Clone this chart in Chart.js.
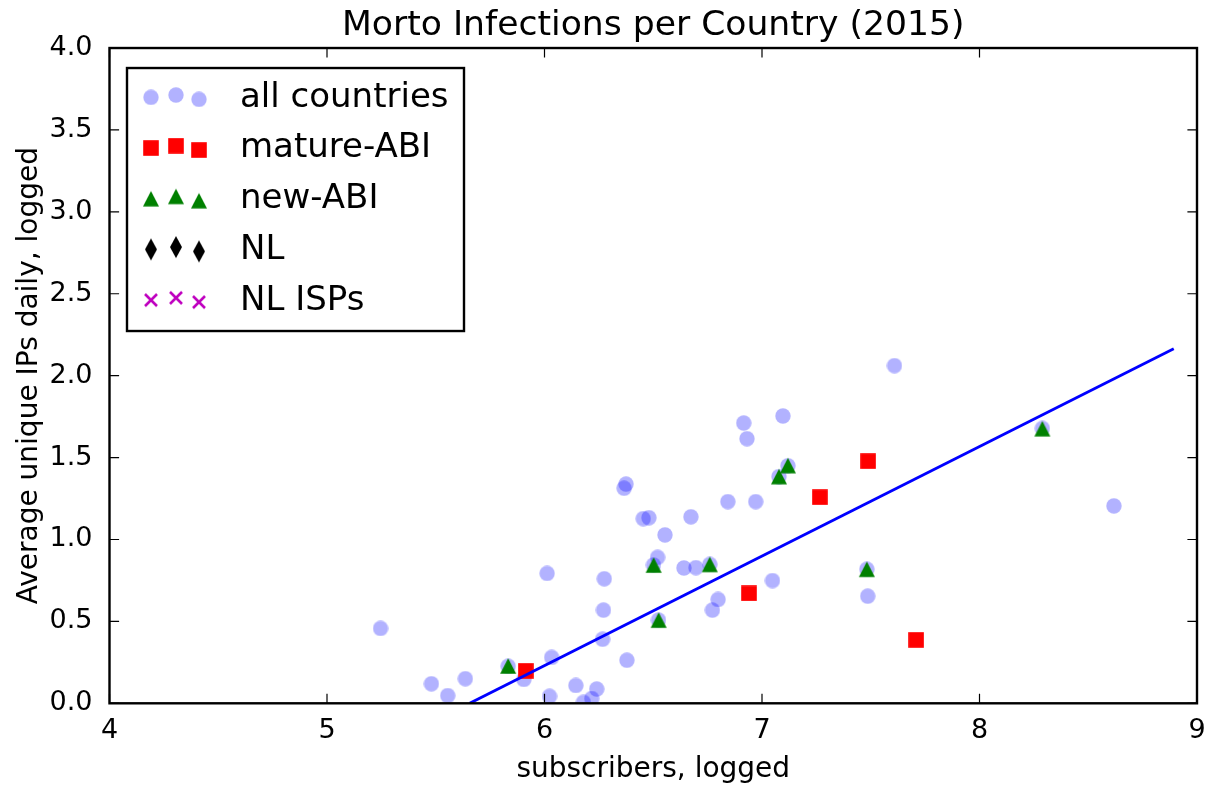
<!DOCTYPE html>
<html>
<head>
<meta charset="utf-8">
<script src="https://cdn.jsdelivr.net/npm/chart.js@4.4.1/dist/chart.umd.min.js"></script>
<style>
  html, body { margin: 0; padding: 0; background: #fff; }
  canvas { display: block; }
</style>
</head>
<body>
<canvas id="mortoGrafico" width="1215" height="789"></canvas>
<script>
// all countries (subscribers logged, IPs logged)
const todosX = [5.246, 5.480, 5.555, 5.636, 5.833, 5.905, 6.012, 6.023, 6.033, 6.144, 6.179,
  6.217, 6.240, 6.267, 6.271, 6.275, 6.379, 6.366, 6.375, 6.454, 6.480, 6.554, 6.520, 6.501,
  6.641, 6.696, 6.760, 6.673, 6.798, 6.772, 6.524, 6.843, 6.971, 6.916, 6.931, 7.096, 7.078,
  7.119, 7.048, 7.609, 7.482, 7.486, 8.289, 8.618];
const todosY = [0.457, 0.119, 0.047, 0.150, 0.226, 0.146, 0.793, 0.043, 0.280, 0.109, 0.006,
  0.029, 0.087, 0.391, 0.569, 0.760, 0.263, 1.313, 1.338, 1.127, 1.133, 1.028, 0.891, 0.844,
  0.826, 0.828, 0.848, 1.138, 0.634, 0.569, 0.508, 1.231, 1.231, 1.711, 1.615, 1.754, 1.384,
  1.450, 0.749, 2.061, 0.818, 0.654, 1.678, 1.205];

const matureX = [5.914, 6.940, 7.266, 7.488, 7.709];
const matureY = [0.198, 0.671, 1.258, 1.478, 0.387];

const novoX = [5.833, 6.502, 6.525, 6.760, 7.078, 7.119, 7.482, 8.289];
const novoY = [0.228, 0.844, 0.508, 0.848, 1.384, 1.451, 0.818, 1.676];

const nlX = [];
const nlY = [];
const ispX = [];
const ispY = [];

// regression line end points
const retaX = [5.656, 8.893];
const retaY = [0.0, 2.165];

const xTicks = [4, 5, 6, 7, 8, 9];
const yTicks = [0.0, 0.5, 1.0, 1.5, 2.0, 2.5, 3.0, 3.5, 4.0];

const FONTE = "'DejaVu Sans', sans-serif";

function pares(xs, ys) {
    return xs.map((x, i) => ({ x: x, y: ys[i] }));
}

function marcador(w, h, desenha) {
    const c = document.createElement("canvas");
    c.width = w;
    c.height = h;
    desenha(c.getContext("2d"), w, h);
    return c;
}

const bolinha = marcador(16, 16, (g) => {
    g.fillStyle = "rgba(0,0,255,0.3)";
    g.beginPath();
    g.arc(8, 8, 7.7, 0, 2 * Math.PI);
    g.fill();
});
const quadrado = marcador(16, 16, (g) => {
    g.fillStyle = "#ff0000";
    g.fillRect(0.2, 0.2, 15.6, 15.6);
});
const triangulo = marcador(18, 18, (g) => {
    g.fillStyle = "#008000";
    g.beginPath();
    g.moveTo(9, 1.2);
    g.lineTo(17, 16.8);
    g.lineTo(1, 16.8);
    g.closePath();
    g.fill();
});
const losango = marcador(14, 24, (g) => {
    g.fillStyle = "#000000";
    g.beginPath();
    g.moveTo(7, 1);
    g.lineTo(13, 12);
    g.lineTo(7, 23);
    g.lineTo(1, 12);
    g.closePath();
    g.fill();
});
const xis = marcador(16, 16, (g) => {
    g.strokeStyle = "#bf00bf";
    g.lineWidth = 2.6;
    g.beginPath();
    g.moveTo(2, 2); g.lineTo(14, 14);
    g.moveTo(14, 2); g.lineTo(2, 14);
    g.stroke();
});

const legendaItens = [
    { texto: "all countries", img: bolinha },
    { texto: "mature-ABI", img: quadrado },
    { texto: "new-ABI", img: triangulo },
    { texto: "NL", img: losango },
    { texto: "NL ISPs", img: xis }
];

// frame with inward ticks on all four sides
const moldura = {
    id: "moldura",
    afterDatasetsDraw(chart) {
        const ctx = chart.ctx;
        const a = chart.chartArea;
        const sx = chart.scales.x, sy = chart.scales.y;
        const tam = 9.6;
        ctx.save();
        ctx.strokeStyle = "#000";
        ctx.lineWidth = 1.2;
        ctx.beginPath();
        xTicks.forEach((v) => {
            const px = sx.getPixelForValue(v);
            ctx.moveTo(px, a.bottom); ctx.lineTo(px, a.bottom - tam);
            ctx.moveTo(px, a.top); ctx.lineTo(px, a.top + tam);
        });
        yTicks.forEach((v) => {
            const py = sy.getPixelForValue(v);
            ctx.moveTo(a.left, py); ctx.lineTo(a.left + tam, py);
            ctx.moveTo(a.right, py); ctx.lineTo(a.right - tam, py);
        });
        ctx.stroke();
        ctx.lineWidth = 2.4;
        ctx.strokeRect(a.left, a.top, a.right - a.left, a.bottom - a.top);
        ctx.restore();
    }
};

const legenda = {
    id: "legendaMpl",
    afterDraw(chart) {
        const ctx = chart.ctx;
        const a = chart.chartArea;
        const bx = a.left + 17.5, by = a.top + 20, bw = 337, bh = 263;
        const offY = [0.3, -2, 2.3];
        const offX = [24, 49, 72];
        ctx.save();
        ctx.fillStyle = "#fff";
        ctx.fillRect(bx, by, bw, bh);
        ctx.strokeStyle = "#000";
        ctx.lineWidth = 2.4;
        ctx.strokeRect(bx, by, bw, bh);
        ctx.font = "34px " + FONTE;
        ctx.textBaseline = "alphabetic";
        ctx.fillStyle = "#000";
        legendaItens.forEach((item, i) => {
            const cy = by + 29 + i * 50.7;
            offX.forEach((ox, k) => {
                const img = item.img;
                ctx.drawImage(img, bx + ox - img.width / 2, cy + offY[k] - img.height / 2);
            });
            ctx.fillText(item.texto, bx + 113, cy + 9.7);
        });
        ctx.restore();
    }
};

new Chart(document.getElementById("mortoGrafico"), {
    type: "scatter",
    data: {
        datasets: [
            {
                type: "line",
                label: "fit",
                data: pares(retaX, retaY),
                borderColor: "#0000ff",
                borderWidth: 2.8,
                pointRadius: 0,
                fill: false
            },
            { label: "new-ABI", data: pares(novoX, novoY), pointStyle: triangulo },
            { label: "mature-ABI", data: pares(matureX, matureY), pointStyle: quadrado },
            { label: "NL ISPs", data: pares(ispX, ispY), pointStyle: xis },
            { label: "NL", data: pares(nlX, nlY), pointStyle: losango },
            { label: "all countries", data: pares(todosX, todosY), pointStyle: bolinha }
        ]
    },
    options: {
        responsive: false,
        animation: false,
        layout: { padding: { left: 0, right: 18, top: 0, bottom: 0 } },
        scales: {
            x: {
                type: "linear",
                min: 4,
                max: 9,
                afterFit(s) { s.height = 85.7; },
                afterBuildTicks(s) { s.ticks = xTicks.map((v) => ({ value: v })); },
                grid: { display: false },
                border: { display: false },
                ticks: {
                    color: "#000",
                    font: { family: FONTE, size: 27 },
                    padding: 3,
                    maxRotation: 0,
                    autoSkip: false
                },
                title: {
                    display: true,
                    text: "subscribers, logged",
                    color: "#000",
                    font: { family: FONTE, size: 28 },
                    padding: { top: 0, bottom: 2 }
                }
            },
            y: {
                type: "linear",
                min: 0,
                max: 4,
                afterFit(s) { s.width = 109.5; },
                afterBuildTicks(s) { s.ticks = yTicks.map((v) => ({ value: v })); },
                grid: { display: false },
                border: { display: false },
                ticks: {
                    color: "#000",
                    font: { family: FONTE, size: 27 },
                    padding: 9,
                    callback: (v) => v.toFixed(1)
                },
                title: {
                    display: true,
                    text: "Average unique IPs daily, logged",
                    color: "#000",
                    font: { family: FONTE, size: 28 },
                    padding: { top: 13, bottom: 0 }
                }
            }
        },
        plugins: {
            legend: { display: false },
            tooltip: { enabled: false },
            title: {
                display: true,
                fullSize: false,
                text: "Morto Infections per Country (2015)",
                color: "#000",
                font: { family: FONTE, size: 34.6, weight: "normal" },
                padding: { top: 5, bottom: 1.5 }
            }
        }
    },
    plugins: [moldura, legenda]
});
</script>
</body>
</html>
